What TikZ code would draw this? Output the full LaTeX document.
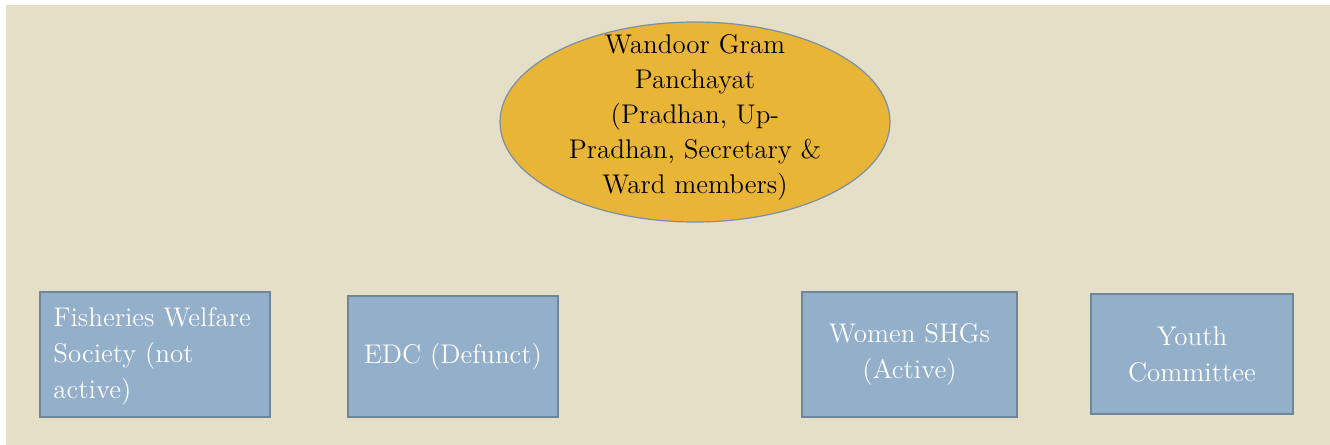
\documentclass[tikz,border=0pt]{standalone}
\usetikzlibrary{shapes.geometric,shadows}
\definecolor{paper}{HTML}{E6DFC7}
\definecolor{gold}{HTML}{E8B536}
\definecolor{slate}{HTML}{93AFC9}
\definecolor{slateline}{HTML}{6F8599}
\definecolor{goldline}{HTML}{7A90A6}
\tikzset{
  body/.style={ellipse, draw=goldline, fill=gold, line width=0.6pt, inner sep=0pt,
    minimum width=195pt, minimum height=100pt},
  bodytext/.style={align=center, text=black, inner sep=0pt,
    font=\fontsize{13.5}{17.5}\selectfont},
  unit/.style={rectangle, draw=slateline, fill=slate, line width=0.7pt, inner sep=0pt,
    text=white, font=\fontsize{13.5}{18}\selectfont,
    drop shadow={shadow xshift=0.6pt, shadow yshift=-0.6pt, fill=black!45, opacity=0.45}}
}
\begin{document}
\begin{tikzpicture}[x=0.5pt, y=-0.5pt]
  % page and background
  \useasboundingbox (0,0) rectangle (1330,445);
  \fill[paper] (6,5) rectangle (1330,445);

  % the panchayat at the top
  \node[body] (gp) at (695,122) {};
  \node[bodytext] (gptext) at (695,117) {Wandoor Gram\\ Panchayat\\ (Pradhan, Up-\\ Pradhan, Secretary \&\\ Ward members)};

  % the village bodies
  \node[unit, minimum width=115pt, minimum height=62.5pt] (fws) at (155,354.5) {};
  \node[anchor=west, align=left, text=white, font=\fontsize{13.5}{18}\selectfont, inner sep=0pt]
    (fwstext) at (53,356) {Fisheries Welfare\\ Society (not\\ active)};
  \node[unit, minimum width=105pt, minimum height=60.5pt] (edc) at (453,356.5) {EDC (Defunct)};
  \node[unit, minimum width=107.5pt, minimum height=62.5pt, align=center] (shg) at (909.5,354.5) {Women SHGs\\ (Active)};
  \node[unit, minimum width=101pt, minimum height=60pt, align=center] (youth) at (1192,354) {Youth\\ Committee};
\end{tikzpicture}
\end{document}
